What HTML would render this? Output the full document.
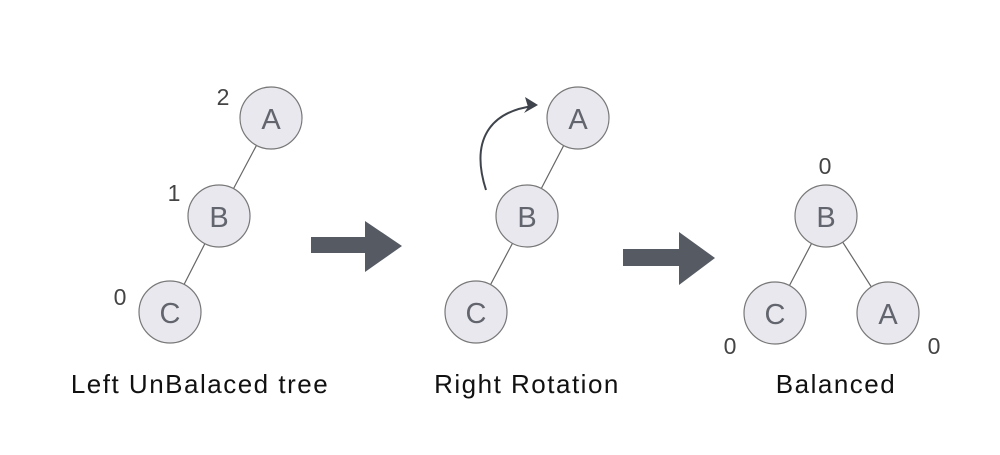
<!DOCTYPE html>
<html><head><style>body{margin:0;background:#fff}</style></head><body>
<svg width="1000" height="450" xmlns="http://www.w3.org/2000/svg" font-family="Liberation Sans, sans-serif">
<rect width="1000" height="450" fill="#fff"/>
<g stroke="#666" stroke-width="1.2">
<line x1="271" y1="118" x2="219" y2="216"/><line x1="219" y1="216" x2="170" y2="312"/>
<line x1="578" y1="118" x2="527" y2="216"/><line x1="527" y1="216" x2="476" y2="312"/>
<line x1="826" y1="216" x2="775" y2="313"/><line x1="826" y1="216" x2="888" y2="313"/>
</g>
<g fill="#e9e8ee" stroke="#777" stroke-width="1.2">
<circle cx="271" cy="118" r="31"/><circle cx="219" cy="216" r="31"/><circle cx="170" cy="312" r="31"/>
<circle cx="578" cy="118" r="31"/><circle cx="527" cy="216" r="31"/><circle cx="476" cy="312" r="31"/>
<circle cx="826" cy="216" r="31"/><circle cx="775" cy="313" r="31"/><circle cx="888" cy="313" r="31"/>
</g>
<g fill="#62656d" font-size="29" text-anchor="middle">
<text x="271" y="129">A</text><text x="219" y="227">B</text><text x="170" y="323">C</text>
<text x="578" y="129">A</text><text x="527" y="227">B</text><text x="476" y="323">C</text>
<text x="826" y="227">B</text><text x="775" y="324">C</text><text x="888" y="324">A</text>
</g>
<g fill="#444" font-size="23" text-anchor="middle">
<text x="223" y="105">2</text><text x="174" y="201">1</text><text x="120" y="305">0</text>
<text x="825" y="174">0</text><text x="730" y="354">0</text><text x="934" y="354">0</text>
</g>
<g fill="#555a63">
<rect x="311" y="237" width="56" height="16"/><polygon points="365,221 402,246 365,272"/>
<rect x="623" y="249" width="58" height="17"/><polygon points="679,232 715,258 679,285"/>
</g>
<path d="M486,190 C470,140 490,112 533,106" fill="none" stroke="#3f444c" stroke-width="2"/>
<polygon points="538,105 525,97 528,107 524,113" fill="#3f444c"/>
<g fill="#111" font-size="26" text-anchor="middle" letter-spacing="1.5">
<text x="200" y="393">Left UnBalaced tree</text>
<text x="527" y="393">Right Rotation</text>
<text x="836" y="393">Balanced</text>
</g>
</svg>
</body></html>
